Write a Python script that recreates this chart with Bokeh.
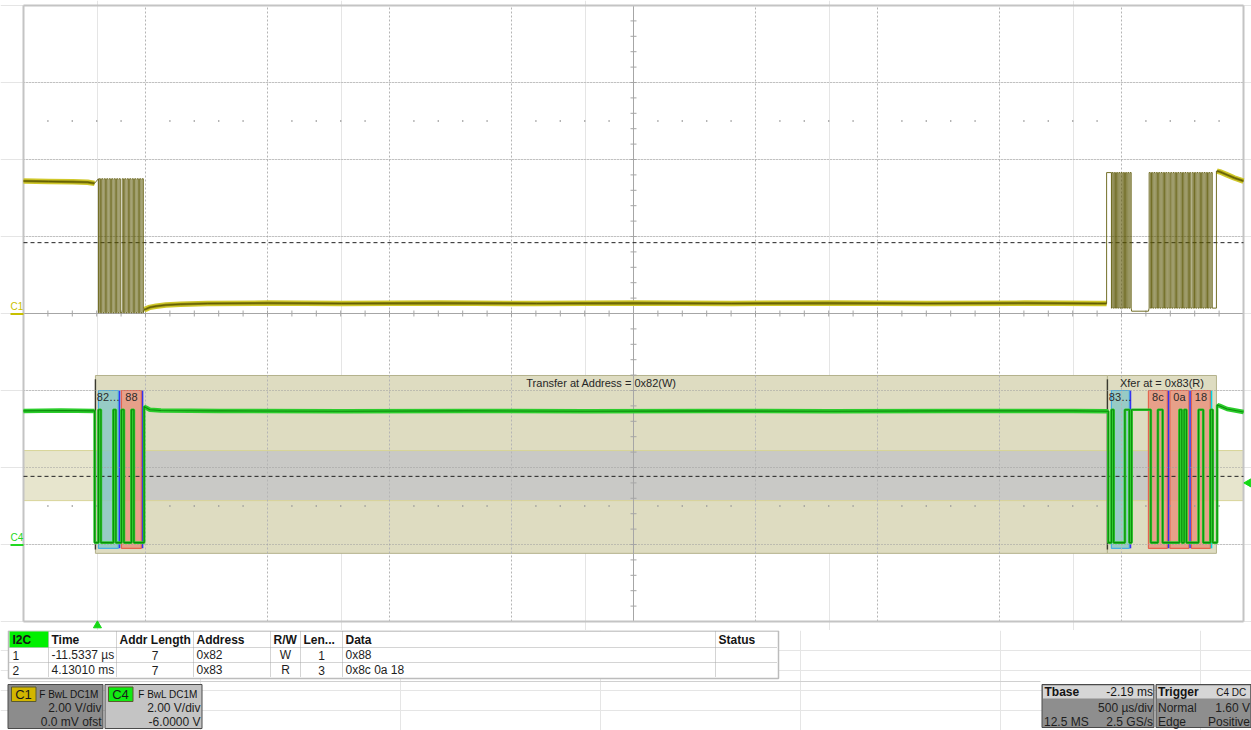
import numpy as np
from bokeh.plotting import figure
from bokeh.layouts import column
from bokeh.models import Range1d
from bokeh.core.properties import value
from bokeh.embed import file_html
from bokeh.resources import INLINE

FONT = value("Liberation Sans")

TIME_PER_DIV_MS = 0.5
N_XDIV = 10
VOLT_PER_DIV = 2.0
N_YDIV = 8
C1_OFFSET_V = 0.0
C4_OFFSET_V = -6.0
GRID_LEFT_MS = -0.303          # time at the left edge of the grid
TRIGGER_TIME_MS = 0.0
TRIGGER_LEVEL_V = 1.60
C1_THRESH_V = 1.84
C4_THRESH_V = 1.77
C4_BAND_V = [1.14, 2.44]

# C1 idle stretches (time in ms, level in V)
C1_PRE_T = [-0.303, -0.20, -0.10, -0.04, -0.012]
C1_PRE_V = [3.44, 3.43, 3.42, 3.41, 3.38]
C1_MID_T = [0.192, 0.200, 0.215, 0.24, 0.28, 0.34, 0.45, 0.7, 1.0, 1.4, 1.8, 2.2, 2.6, 3.0, 3.4, 3.8, 4.1, 4.136]
C1_MID_V = [0.10, 0.12, 0.16, 0.19, 0.22, 0.24, 0.26, 0.27, 0.26, 0.27, 0.26, 0.27, 0.26, 0.27, 0.26, 0.27, 0.26, 0.26]
C1_POST_T = [4.588, 4.600, 4.630, 4.660, 4.697]
C1_POST_V = [3.70, 3.68, 3.60, 3.52, 3.44]
C1_BURST_HIGH_V = [3.50, 3.66]
C1_BURST_LOW_V = [0.02, 0.14]
C1_GAP_LOW_V = 0.06

# C4 idle stretches
C4_PRE_T = [-0.303, -0.15, -0.012]
C4_PRE_V = [3.47, 3.48, 3.47]
C4_MID_T = [0.192, 0.200, 0.215, 0.26, 0.5, 1.0, 1.5, 2.0, 2.5, 3.0, 3.5, 4.0, 4.143]
C4_MID_V = [3.58, 3.55, 3.50, 3.48, 3.47, 3.46, 3.47, 3.46, 3.47, 3.46, 3.47, 3.47, 3.46]
C4_POST_T = [4.590, 4.600, 4.630, 4.697]
C4_POST_V = [3.62, 3.60, 3.52, 3.44]
C4_HIGH_V = 3.50
C4_LOW_V = 0.05

# I2C decode (frames)
FRAME_LABEL = ["82\u2026", "88", "83\u2026", "8c", "0a", "18"]
FRAME_BYTE = [0x82, 0x88, 0x83, 0x8C, 0x0A, 0x18]
FRAME_ACK = [0, 0, 0, 0, 0, 1]
FRAME_XFER = [0, 0, 1, 1, 1, 1]
FRAME_KIND = ["addr", "data", "addr", "data", "data", "data"]
FRAME_START_MS = [0.0041, 0.0984, 4.1557, 4.3074, 4.3955, 4.4836]
FRAME_BIT_MS = [0.0102, 0.0102, 0.0092, 0.0097, 0.0097, 0.0097]

XFER_HEADER = ["Transfer at Address = 0x82(W)", "Xfer at = 0x83(R)"]
XFER_BOX_START_MS = [-0.0082, 4.1393]
XFER_BOX_END_MS = [4.1393, 4.5861]
XFER_SDA_FALL_MS = [-0.0115, 4.1430]
XFER_SCL_RISE_MS = [None, 4.1360]
XFER_SDA_RISE_MS = [0.1915, 4.5890]
XFER_SCL_END_MS = [0.1930, 4.5860]

# result table
TABLE_HEADERS = ["I2C", "Time", "Addr Length", "Address", "R/W", "Len...", "Data", "Status"]
TABLE_ROWS = [
    ["1", "-11.5337 \u00b5s", "7", "0x82", "W", "1", "0x88", ""],
    ["2", "4.13010 ms", "7", "0x83", "R", "3", "0x8c 0a 18", ""],
]

# channel / timebase / trigger boxes
CH_NAMES = ["C1", "C4"]
CH_FLAGS = ["F  BwL DC1M", "F  BwL DC1M"]
CH_VDIV = ["2.00 V/div", "2.00 V/div"]
CH_OFS = ["0.0 mV ofst", "-6.0000 V"]
TB_TEXT = ["Tbase", "-2.19 ms", "500 \u00b5s/div", "12.5 MS", "2.5 GS/s"]
TRIG_TEXT = ["Trigger", "C4  DC", "Normal", "1.60 V", "Edge", "Positive"]

# ---------------- layout / style ----------------
W = 1251
HA = 630
HB = 100
GRID_PX_LEFT = 23
GRID_PX_RIGHT = 1243
GRID_PX_TOP = 5
GRID_PX_BOTTOM = 621
PX_X = (GRID_PX_RIGHT - GRID_PX_LEFT) / (N_XDIV * TIME_PER_DIV_MS)   # px per ms
PX_Y = (GRID_PX_BOTTOM - GRID_PX_TOP) / (N_YDIV * VOLT_PER_DIV)      # px per volt
GRID_RIGHT_MS = GRID_LEFT_MS + N_XDIV * TIME_PER_DIV_MS
C1_CENTER = -C1_OFFSET_V
C4_CENTER = -C4_OFFSET_V
HALF_V = N_YDIV / 2 * VOLT_PER_DIV
TOP_EXTRA_V = GRID_PX_TOP / PX_Y
BOT_EXTRA_V = (HA - GRID_PX_BOTTOM) / PX_Y

C1_COL_HALO = "#d0c82a"
C1_COL_MID = "#8a8410"
C1_COL_BURST = "#5a5500"
C4_COL_HALO = "#2ccc2c"
C4_COL_CORE = "#0c8c0c"


def bits_of(byte, ack):
    return [(byte >> (7 - k)) & 1 for k in range(8)] + [ack]


def frames_of(x):
    return [i for i in range(len(FRAME_BYTE)) if FRAME_XFER[i] == x]


def build_c1():
    t = list(C1_PRE_T)
    v = list(C1_PRE_V)
    for x in range(2):
        hi, lo = C1_BURST_HIGH_V[x], C1_BURST_LOW_V[x]
        if XFER_SCL_RISE_MS[x] is not None:
            r = XFER_SCL_RISE_MS[x]
            t += [r, r]
            v += [v[-1], hi]
        prev_end = None
        for i in frames_of(x):
            s, b = FRAME_START_MS[i], FRAME_BIT_MS[i]
            if prev_end is None:
                t += [s, s]
                v += [hi, lo]
            elif s - prev_end > 2 * b:
                t += [prev_end, s]
                v += [C1_GAP_LOW_V, C1_GAP_LOW_V]
            for k in range(9):
                a = s + (k + 0.3) * b
                c = s + (k + 0.8) * b
                t += [a, a, c, c]
                v += [lo, hi, hi, lo]
            prev_end = s + 9 * b
        if x == 0:
            t += C1_MID_T
            v += C1_MID_V
        else:
            e = XFER_SCL_END_MS[x]
            t += [e, e]
            v += [lo, C1_POST_V[0]]
            t += C1_POST_T
            v += C1_POST_V
    return t, v


def build_c4():
    t = list(C4_PRE_T)
    v = list(C4_PRE_V)
    for x in range(2):
        f = XFER_SDA_FALL_MS[x]
        t += [f, f]
        v += [v[-1], C4_LOW_V]
        level = C4_LOW_V
        prev_end = None
        for i in frames_of(x):
            s, b = FRAME_START_MS[i], FRAME_BIT_MS[i]
            if prev_end is not None and s - prev_end > 2 * b:
                t += [prev_end, prev_end]
                v += [level, C4_HIGH_V]
                level = C4_HIGH_V
            for k, bit in enumerate(bits_of(FRAME_BYTE[i], FRAME_ACK[i])):
                nl = C4_HIGH_V if bit else C4_LOW_V
                ts = s + k * b
                if nl != level:
                    t += [ts, ts]
                    v += [level, nl]
                    level = nl
            prev_end = s + 9 * b
        if level != C4_LOW_V:
            t += [prev_end, prev_end]
            v += [level, C4_LOW_V]
            level = C4_LOW_V
        r = XFER_SDA_RISE_MS[x]
        after_t, after_v = (C4_MID_T, C4_MID_V) if x == 0 else (C4_POST_T, C4_POST_V)
        t += [r, r]
        v += [level, after_v[0]]
        t += after_t
        v += after_v
    return t, v


# ---------------- scope figure ----------------
p = figure(width=W, height=HA,
           x_range=Range1d(GRID_LEFT_MS - GRID_PX_LEFT / PX_X, GRID_RIGHT_MS + (W - GRID_PX_RIGHT) / PX_X),
           y_range=Range1d(C1_CENTER - HALF_V - BOT_EXTRA_V, C1_CENTER + HALF_V + TOP_EXTRA_V),
           x_axis_location=None, y_axis_location=None, toolbar_location=None,
           output_backend="svg", min_border=0, outline_line_color=None,
           background_fill_color="white", border_fill_color="white")
p.extra_y_ranges = {"c4": Range1d(C4_CENTER - HALF_V - BOT_EXTRA_V, C4_CENTER + HALF_V + TOP_EXTRA_V)}

# full-width threshold band (C4)
p.quad(left=[GRID_LEFT_MS], right=[GRID_RIGHT_MS], bottom=[C4_BAND_V[0]], top=[C4_BAND_V[1]],
       fill_color="#e7e5cd", line_color="#d8d498", line_width=1, y_range_name="c4")

# decoder transfer boxes
DEC_TOP_V = 4.39
DEC_BOT_V = -0.23
SUB_TOP_V = 4.0
SUB_BOT_V = -0.10
p.quad(left=XFER_BOX_START_MS, right=XFER_BOX_END_MS,
       bottom=[DEC_BOT_V] * 2, top=[DEC_TOP_V] * 2,
       fill_color="#dedcc1", line_color="#b4b28c", line_width=1, y_range_name="c4")
# band seen through the decoder area
p.quad(left=[XFER_BOX_START_MS[0]], right=[XFER_BOX_END_MS[-1]], bottom=[C4_BAND_V[0]], top=[C4_BAND_V[1]],
       fill_color="#c9c9c6", line_color="#d8d498", line_width=1, y_range_name="c4")

# frame boxes
sub_l = [FRAME_START_MS[i] for i in range(len(FRAME_BYTE))]
sub_r = [FRAME_START_MS[i] + 8 * FRAME_BIT_MS[i] for i in range(len(FRAME_BYTE))]
sub_fill = ["#7fc6c6" if k == "addr" else "#ea8c76" for k in FRAME_KIND]
sub_line = ["#49aee0" if k == "addr" else "#e5654e" for k in FRAME_KIND]
p.quad(left=sub_l, right=sub_r, bottom=[SUB_BOT_V] * len(sub_l), top=[SUB_TOP_V] * len(sub_l),
       fill_color=sub_fill, fill_alpha=0.75, line_color=sub_line, line_width=1.2, y_range_name="c4")
ack_x = [FRAME_START_MS[i] + 8.5 * FRAME_BIT_MS[i] for i in range(len(FRAME_BYTE))]
ack_c = ["#00d8e8" if a else "#3434f0" for a in FRAME_ACK]
p.segment(x0=ack_x, x1=ack_x, y0=[SUB_BOT_V] * len(ack_x), y1=[SUB_TOP_V] * len(ack_x),
          line_color=ack_c, line_width=1.5, y_range_name="c4")
p.segment(x0=XFER_BOX_START_MS, x1=XFER_BOX_START_MS, y0=[DEC_BOT_V + 0.1] * 2, y1=[DEC_TOP_V - 0.1] * 2,
          line_color="#3a3a30", line_width=1.4, y_range_name="c4")

# ---------------- graticule ----------------
G_BOT = C1_CENTER - HALF_V
G_TOP = C1_CENTER + HALF_V
div_x = [GRID_LEFT_MS + i * TIME_PER_DIV_MS for i in range(1, N_XDIV) if i != N_XDIV // 2]
p.segment(x0=div_x, x1=div_x, y0=[G_BOT] * len(div_x), y1=[G_TOP] * len(div_x),
          line_color="#b4b4b4", line_dash="2 2", line_width=1)
div_y = [C1_CENTER + j * VOLT_PER_DIV for j in range(-N_YDIV // 2 + 1, N_YDIV // 2) if j != 0]
p.segment(x0=[GRID_LEFT_MS] * len(div_y), x1=[GRID_RIGHT_MS] * len(div_y), y0=div_y, y1=div_y,
          line_color="#9c9c9c", line_dash="1 2", line_width=1)
xc = GRID_LEFT_MS + N_XDIV / 2 * TIME_PER_DIV_MS
p.segment(x0=[xc, GRID_LEFT_MS], x1=[xc, GRID_RIGHT_MS], y0=[G_BOT, C1_CENTER],
          y1=[G_TOP, C1_CENTER], line_color="#a6a6a6", line_width=1)
# minor ticks on the centre lines
tx = [GRID_LEFT_MS + k * TIME_PER_DIV_MS / 5 for k in range(1, N_XDIV * 5)]
hy = 3 / PX_Y
p.segment(x0=tx, x1=tx, y0=[C1_CENTER - hy] * len(tx), y1=[C1_CENTER + hy] * len(tx),
          line_color="#a6a6a6", line_width=1)
ty = [C1_CENTER + m * VOLT_PER_DIV / 5 for m in range(-N_YDIV * 5 // 2 + 1, N_YDIV * 5 // 2)]
hx = 3 / PX_X
p.segment(x0=[xc - hx] * len(ty), x1=[xc + hx] * len(ty), y0=ty, y1=ty, line_color="#a6a6a6", line_width=1)
# dotted minor rows at +-2.5 div
dots_x = [GRID_LEFT_MS + k * TIME_PER_DIV_MS / 5 for k in range(1, N_XDIV * 5) if k % 5]
for sgn in (1, -1):
    p.scatter(x=dots_x, y=[C1_CENTER + sgn * 2.5 * VOLT_PER_DIV] * len(dots_x), marker="square",
              size=1.4, fill_color="#9a9a9a", line_color=None)
# grid border
p.segment(x0=[GRID_LEFT_MS, GRID_LEFT_MS, GRID_LEFT_MS, GRID_RIGHT_MS],
          x1=[GRID_LEFT_MS, GRID_RIGHT_MS, GRID_RIGHT_MS, GRID_RIGHT_MS],
          y0=[G_BOT, G_TOP, G_BOT, G_BOT],
          y1=[G_TOP, G_TOP, G_BOT, G_TOP],
          line_color="#c4c4c4", line_width=2)

# threshold dashed lines
p.segment(x0=[GRID_LEFT_MS], x1=[GRID_RIGHT_MS], y0=[C1_THRESH_V], y1=[C1_THRESH_V],
          line_color="#202020", line_dash="4 3", line_width=1)
p.segment(x0=[GRID_LEFT_MS], x1=[GRID_RIGHT_MS], y0=[C4_THRESH_V], y1=[C4_THRESH_V],
          line_color="#202020", line_dash="4 3", line_width=1, y_range_name="c4")

# ---------------- traces ----------------
c1_t, c1_v = build_c1()
c4_t, c4_v = build_c4()
for tt, vv in ((C1_PRE_T, C1_PRE_V), (C1_MID_T, C1_MID_V), (C1_POST_T, C1_POST_V)):
    p.line(tt, vv, line_color=C1_COL_HALO, line_width=5.5)
    p.line(tt, vv, line_color=C1_COL_MID, line_width=2.6)
p.line(c1_t, c1_v, line_color=C1_COL_BURST, line_width=0.85)

for tt, vv in ((C4_PRE_T, C4_PRE_V), (C4_MID_T, C4_MID_V), (C4_POST_T, C4_POST_V)):
    p.line(tt, vv, line_color=C4_COL_HALO, line_width=4.5, y_range_name="c4")
p.line(c4_t, c4_v, line_color=C4_COL_HALO, line_width=2.6, y_range_name="c4")
p.line(c4_t, c4_v, line_color=C4_COL_CORE, line_width=1.1, y_range_name="c4")

# decoder texts
p.text(x=[(a + b) / 2 for a, b in zip(XFER_BOX_START_MS, XFER_BOX_END_MS)], y=[4.20, 4.20], text=XFER_HEADER,
       text_font=FONT, text_font_size="11px", text_color="#262626", text_align="center",
       text_baseline="middle", y_range_name="c4")
p.text(x=[(a + b) / 2 for a, b in zip(sub_l, sub_r)], y=[3.82] * len(sub_l), text=FRAME_LABEL,
       text_font=FONT, text_font_size="11px", text_color="#2a2a2a", text_align="center",
       text_baseline="middle", y_range_name="c4")

# channel ground markers
lab_x = GRID_LEFT_MS - 13 / PX_X
p.segment(x0=[lab_x], x1=[GRID_LEFT_MS], y0=[-0.6 / PX_Y], y1=[-0.6 / PX_Y], line_color="#c8c000", line_width=2)
p.text(x=[lab_x], y=[2.0 / PX_Y], text=["C1"], text_font=FONT, text_font_size="10px", text_color="#c8c000",
       text_baseline="bottom", text_align="left")
p.segment(x0=[lab_x], x1=[GRID_LEFT_MS], y0=[-0.6 / PX_Y], y1=[-0.6 / PX_Y], line_color="#22d822",
          line_width=2, y_range_name="c4")
p.text(x=[lab_x], y=[2.0 / PX_Y], text=["C4"], text_font=FONT, text_font_size="10px", text_color="#22d822",
       text_baseline="bottom", text_align="left", y_range_name="c4")

# trigger markers
p.scatter(x=[TRIGGER_TIME_MS], y=[G_BOT - 4 / PX_Y], marker="triangle", size=8,
          fill_color="#14d814", line_color="#14d814")
p.scatter(x=[GRID_RIGHT_MS + 5 / PX_X], y=[TRIGGER_LEVEL_V], marker="triangle", size=8, angle=np.pi / 2,
          fill_color="#14d814", line_color="#14d814", y_range_name="c4")

# ---------------- table + info boxes ----------------
q = figure(width=W, height=HB, x_range=Range1d(0, W), y_range=Range1d(HB, 0),
           x_axis_location=None, y_axis_location=None, toolbar_location=None,
           output_backend="svg", min_border=0, outline_line_color=None,
           background_fill_color="white", border_fill_color="white")

COL_EDGES = [9, 48, 116, 193, 270, 300, 342, 715, 777]
COL_ALIGN = ["left", "left", "center", "left", "center", "center", "left", "left"]
ROW_EDGES = [1, 17, 32, 47]

q.quad(left=[8], right=[COL_EDGES[-1] + 1], top=[0.5], bottom=[ROW_EDGES[-1] + 1],
       fill_color="white", line_color="#bcbcbc", line_width=1.5)
q.quad(left=[COL_EDGES[0]], right=[COL_EDGES[1]], top=[ROW_EDGES[0]], bottom=[ROW_EDGES[1]],
       fill_color="#00f000", line_color=None)
sep_x = COL_EDGES[1:-1]
q.segment(x0=sep_x, x1=sep_x, y0=[ROW_EDGES[0]] * len(sep_x), y1=[ROW_EDGES[-1]] * len(sep_x),
          line_color="#a8a8a8", line_dash="1 1", line_width=1)
sep_y = ROW_EDGES[1:-1]
q.segment(x0=[COL_EDGES[0]] * len(sep_y), x1=[COL_EDGES[-1]] * len(sep_y), y0=sep_y, y1=sep_y,
          line_color="#a8a8a8", line_dash="1 1", line_width=1)


def cell_x(c):
    if COL_ALIGN[c] == "center":
        return (COL_EDGES[c] + COL_EDGES[c + 1]) / 2
    return COL_EDGES[c] + 3


hx_ = [COL_EDGES[c] + 3 for c in range(len(TABLE_HEADERS))]
q.text(x=hx_, y=[9.5] * len(hx_), text=TABLE_HEADERS,
       text_font=FONT, text_font_size="12px", text_font_style="bold", text_color="#141414",
       text_baseline="middle", text_align="left")
ROW_Y = [24.5, 39.5]
for r, row in enumerate(TABLE_ROWS):
    for c, txt in enumerate(row):
        if not txt:
            continue
        q.text(x=[cell_x(c)], y=[ROW_Y[r]], text=[txt], text_font=FONT, text_font_size="12px",
               text_color="#1e1e1e", text_baseline="middle", text_align=COL_ALIGN[c])

# thin separator above the info boxes
q.segment(x0=[10], x1=[1040], y0=[51], y1=[51], line_color="#d0d0d0", line_width=1)

BOX_TOP = 54
BOX_BOT = 98
# channel boxes
CH_X = [(7.5, 102.5), (104.5, 201.5)]
CH_BG = ["#8c8c8c", "#c4c4c4"]
CH_TAG = ["#d2b600", "#12ea12"]
for k in range(2):
    l, r = CH_X[k]
    q.quad(left=[l], right=[r], top=[BOX_TOP], bottom=[BOX_BOT], fill_color=CH_BG[k],
           line_color="#4a4a4a", line_width=1)
    q.quad(left=[l + 3.5], right=[l + 28], top=[BOX_TOP + 2.5], bottom=[BOX_TOP + 17], fill_color=CH_TAG[k],
           line_color="#5a5a30", line_width=1)
    q.text(x=[l + 15.5], y=[BOX_TOP + 10], text=[CH_NAMES[k]], text_font=FONT, text_font_size="13px",
           text_color="#1a1a1a", text_align="center", text_baseline="middle")
    q.text(x=[r - 1.5], y=[BOX_TOP + 9.5], text=[CH_FLAGS[k]], text_font=FONT, text_font_size="10px",
           text_color="#141414", text_align="right", text_baseline="middle")
    q.text(x=[r - 1.5], y=[BOX_TOP + 23.5], text=[CH_VDIV[k]], text_font=FONT, text_font_size="12px",
           text_color="#1e1e1e", text_align="right", text_baseline="middle")
    q.text(x=[r - 1.5], y=[BOX_TOP + 37.5], text=[CH_OFS[k]], text_font=FONT, text_font_size="12px",
           text_color="#1e1e1e", text_align="right", text_baseline="middle")

# timebase and trigger boxes
TB_X = (1041.5, 1153.5)
TR_X = (1155.5, 1250.5)
HDR_H = 14
for (l, r) in (TB_X, TR_X):
    q.quad(left=[l], right=[r], top=[BOX_TOP], bottom=[BOX_BOT - 1], fill_color="#8e8e8e",
           line_color="#4a4a4a", line_width=1)
    q.quad(left=[l + 1], right=[r - 1], top=[BOX_TOP + 1], bottom=[BOX_TOP + HDR_H], fill_color="#d6d6d6",
           line_color=None)
yh = BOX_TOP + 7.5
y1 = BOX_TOP + 23
y2 = BOX_TOP + 37.5
q.text(x=[TB_X[0] + 2.5], y=[yh], text=[TB_TEXT[0]], text_font=FONT, text_font_size="12px",
       text_font_style="bold", text_color="#141414", text_baseline="middle")
q.text(x=[TB_X[1] - 1], y=[yh], text=[TB_TEXT[1]], text_font=FONT, text_font_size="12px",
       text_color="#141414", text_baseline="middle", text_align="right")
q.text(x=[TB_X[1] - 1], y=[y1], text=[TB_TEXT[2]], text_font=FONT, text_font_size="12px",
       text_color="#1e1e1e", text_baseline="middle", text_align="right")
q.text(x=[TB_X[0] + 2], y=[y2], text=[TB_TEXT[3]], text_font=FONT, text_font_size="12px",
       text_color="#1e1e1e", text_baseline="middle", text_align="left")
q.text(x=[TB_X[1] - 1], y=[y2], text=[TB_TEXT[4]], text_font=FONT, text_font_size="12px",
       text_color="#1e1e1e", text_baseline="middle", text_align="right")
q.text(x=[TR_X[0] + 2], y=[yh], text=[TRIG_TEXT[0]], text_font=FONT, text_font_size="12px",
       text_font_style="bold", text_color="#141414", text_baseline="middle")
q.text(x=[TR_X[1] - 2], y=[yh], text=[TRIG_TEXT[1]], text_font=FONT, text_font_size="10px",
       text_color="#141414", text_baseline="middle", text_align="right")
q.text(x=[TR_X[0] + 2, TR_X[1] - 1], y=[y1, y1], text=TRIG_TEXT[2:4], text_font=FONT, text_font_size="12px",
       text_color="#1e1e1e", text_baseline="middle", text_align=["left", "right"])
q.text(x=[TR_X[0] + 2, TR_X[1] - 1], y=[y2, y2], text=TRIG_TEXT[4:6], text_font=FONT, text_font_size="12px",
       text_color="#1e1e1e", text_baseline="middle", text_align=["left", "right"])

layout = column(p, q, spacing=0)
open("out.html", "w").write(file_html(layout, INLINE))
